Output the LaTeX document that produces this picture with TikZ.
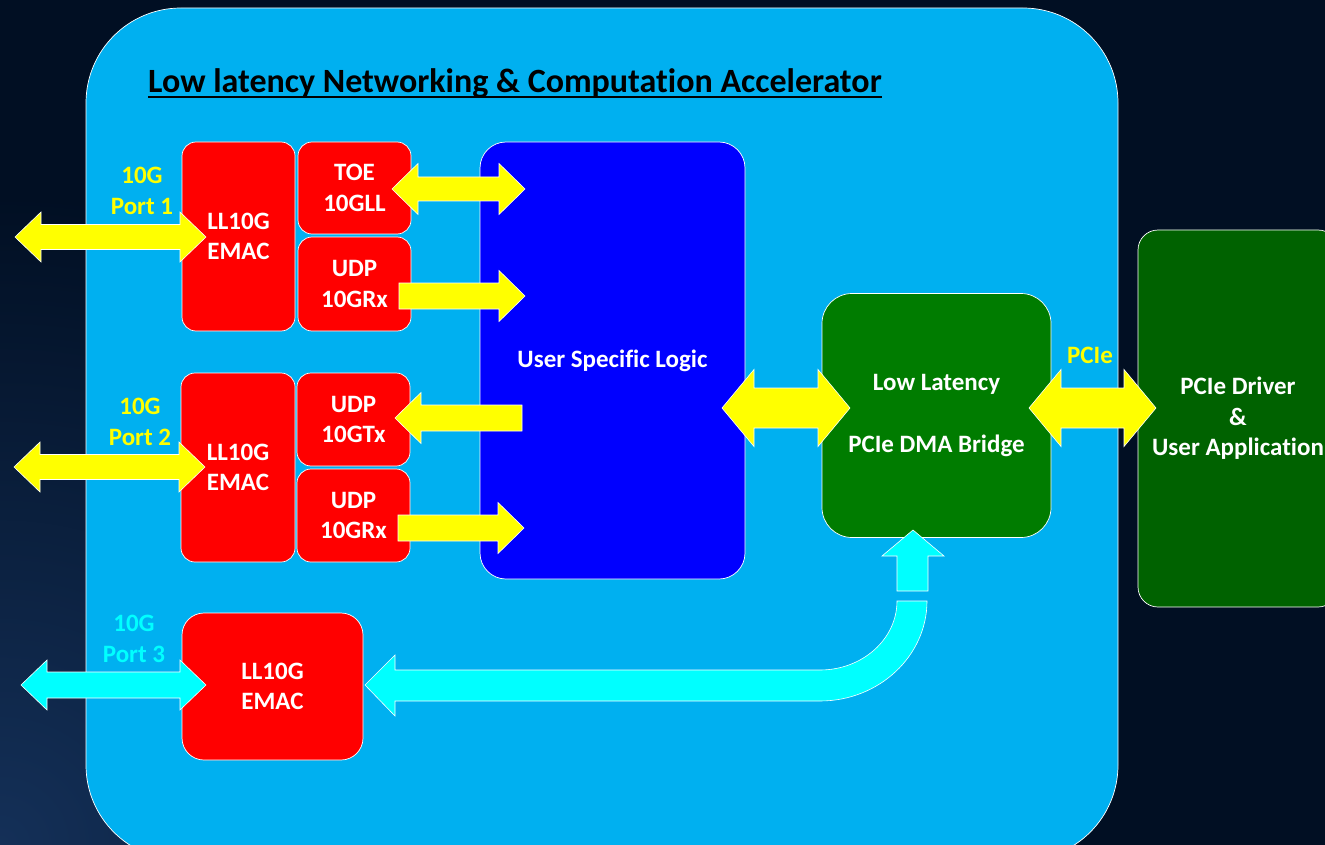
\documentclass[tikz,border=0pt]{standalone}
\usepackage{fontspec}
\setmainfont{Carlito}[Ligatures=NoCommon]
\usetikzlibrary{calc}
\definecolor{bgdark}{RGB}{1,15,35}
\definecolor{bgblue}{RGB}{20,48,88}
\definecolor{mainblue}{RGB}{0,176,240}
\definecolor{boxred}{RGB}{255,0,0}
\definecolor{boxblue}{RGB}{0,0,255}
\definecolor{boxgreen}{RGB}{0,124,0}
\definecolor{hostgreen}{RGB}{0,98,0}
\definecolor{arryellow}{RGB}{255,255,0}
\definecolor{arrcyan}{RGB}{0,255,255}
\newcommand\lblfont{\bfseries\fontsize{25}{30.5}\selectfont}
\newcommand\titlefont{\bfseries\fontsize{34}{40}\selectfont}
% #1 style, #2 x1, #3 x2, #4 y, #5 shaft half, #6 head half, #7 head length
\newcommand\dblarrow[7]{\path[#1] (#2,#4) -- ({#2+#7},{#4-#6}) -- ({#2+#7},{#4-#5}) -- ({#3-#7},{#4-#5}) -- ({#3-#7},{#4-#6}) -- (#3,#4) -- ({#3-#7},{#4+#6}) -- ({#3-#7},{#4+#5}) -- ({#2+#7},{#4+#5}) -- ({#2+#7},{#4+#6}) -- cycle;}
\newcommand\rtarrow[7]{\path[#1] (#2,{#4-#5}) -- ({#3-#7},{#4-#5}) -- ({#3-#7},{#4-#6}) -- (#3,#4) -- ({#3-#7},{#4+#6}) -- ({#3-#7},{#4+#5}) -- (#2,{#4+#5}) -- cycle;}
\newcommand\ltarrow[7]{\path[#1] (#3,{#4-#5}) -- ({#2+#7},{#4-#5}) -- ({#2+#7},{#4-#6}) -- (#2,#4) -- ({#2+#7},{#4+#6}) -- ({#2+#7},{#4+#5}) -- (#3,{#4+#5}) -- cycle;}
\begin{document}
\begin{tikzpicture}[x=1pt,y=-1pt,
  box/.style={draw=white,line width=0.7pt,rounded corners=14pt,text=white,font=\lblfont,align=center,inner sep=0pt},
  arr/.style={draw=white,line width=0.6pt,line join=miter},
  yarr/.style={arr,fill=arryellow},
  carr/.style={arr,fill=arrcyan},
  lbl/.style={font=\lblfont,align=center,inner sep=0pt}]
\useasboundingbox (0,0) rectangle (1325,845);
\clip (0,0) rectangle (1325,845);
% background
\fill[bgdark] (0,0) rectangle (1325,845);
\shade[inner color=bgblue,outer color=bgdark] (0,845) circle (650);
% main board
\node[draw=white,line width=0.7pt,fill=mainblue,rounded corners=95pt,minimum width=1032pt,minimum height=852pt,inner sep=0pt] (main) at (602,434) {};
\node[anchor=base west,inner sep=0pt,font=\titlefont,text=black] (title) at (148,93) {Low latency Networking \& Computation Accelerator};
\draw[line width=2pt,black] ($(title.base west)+(0,4)$) -- ($(title.base east)+(0,4)$);
% boxes
\node[box,fill=boxred,minimum width=113pt,minimum height=189pt] (emac1) at (238.5,236.5) {LL10G\\EMAC};
\node[box,fill=boxred,minimum width=113pt,minimum height=92pt] (toe) at (354.5,188) {TOE\\10GLL};
\node[box,fill=boxred,minimum width=113pt,minimum height=94pt] (udprx1) at (354.5,284) {UDP\\10GRx};
\node[box,fill=boxred,minimum width=114pt,minimum height=189pt] (emac2) at (238,467.5) {LL10G\\EMAC};
\node[box,fill=boxred,minimum width=113pt,minimum height=93pt] (udptx) at (353.5,419.5) {UDP\\10GTx};
\node[box,fill=boxred,minimum width=113pt,minimum height=93pt] (udprx2) at (353.5,515.5) {UDP\\10GRx};
\node[box,fill=boxred,minimum width=181pt,minimum height=147pt,rounded corners=22pt] (emac3) at (272.5,686.5) {LL10G\\EMAC};
\node[box,fill=boxblue,minimum width=265pt,minimum height=437pt,rounded corners=26pt] (usl) at (612.5,360.5) {User Specific Logic};
\node[box,fill=boxgreen,minimum width=229pt,minimum height=244pt,rounded corners=30pt] (dma) at (936.5,415.5) {Low Latency\\[31pt]PCIe DMA Bridge};
\node[box,fill=hostgreen,minimum width=200pt,minimum height=377pt,rounded corners=20pt] (host) at (1238,418.5) {PCIe Driver\\\&\\User Application};
% port labels
\node[lbl,text=arryellow] (p1) at (142,191) {10G\\Port 1};
\node[lbl,text=arryellow] (p2) at (140,422) {10G\\Port 2};
\node[lbl,text=arrcyan] (p3) at (134,639) {10G\\Port 3};
\node[lbl,text=arryellow] (pcie) at (1090,355) {PCIe};
% arrows
\dblarrow{yarr}{15}{206}{237}{12.5}{25}{26}
\dblarrow{yarr}{392}{525}{189}{12}{25.5}{26}
\rtarrow{yarr}{399}{525}{296}{13}{25.5}{26}
\dblarrow{yarr}{14}{205}{467}{12.5}{25}{26}
\ltarrow{yarr}{395}{522}{418}{13}{25.5}{26}
\rtarrow{yarr}{398}{524}{528}{13}{25.5}{26}
\dblarrow{carr}{21}{206}{685}{13}{25}{26}
\dblarrow{yarr}{722}{850}{408}{20}{38.5}{32}
\dblarrow{yarr}{1029}{1156}{408}{20}{38.5}{32}
% bent cyan arrow from DMA to EMAC3
\path[carr] (365,685) -- (395,655) -- (395,670) -- (820,670) .. controls (862.5,670) and (897,639) .. (897,601) -- (927,601) .. controls (927,656) and (879,701) .. (820,701) -- (395,701) -- (395,716) -- cycle;
\path[carr] (897,591) -- (897,556) -- (882,556) -- (913,530) -- (944,556) -- (928,556) -- (928,591) -- cycle;
\end{tikzpicture}
\end{document}
